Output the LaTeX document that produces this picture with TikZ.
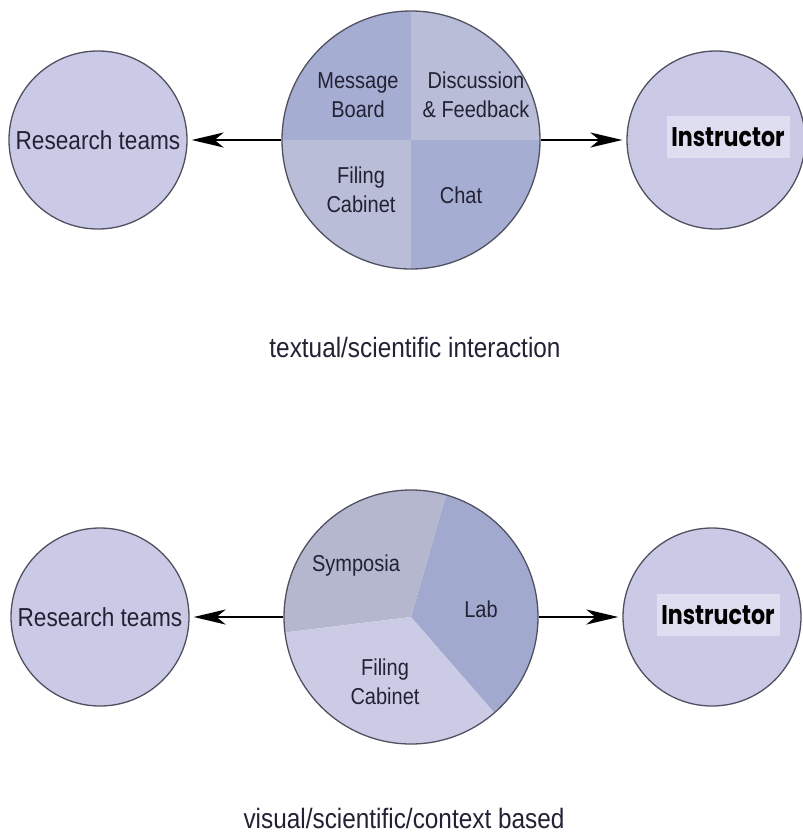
\documentclass[tikz,border=0pt]{standalone}
\usepackage{fontspec}
\setmainfont{Liberation Sans}[FakeStretch=0.87]
\newfontfamily\instrfont{Poppins}[FakeStretch=0.82]
\usetikzlibrary{arrows.meta}
\definecolor{outerfill}{RGB}{202,202,230}
\definecolor{qdark}{RGB}{166,173,210}
\definecolor{qlight}{RGB}{186,189,215}
\definecolor{symp}{RGB}{180,183,206}
\definecolor{labc}{RGB}{162,169,207}
\definecolor{filec}{RGB}{203,203,230}
\definecolor{edgec}{RGB}{80,80,96}
\definecolor{textc}{RGB}{34,34,52}
\definecolor{hilite}{RGB}{222,222,240}
\begin{document}
\begin{tikzpicture}[x=1pt,y=-1pt,
  outer/.style={circle, draw=edgec, line width=1.3pt, fill=outerfill, minimum size=178pt, inner sep=0pt, text=textc, font=\fontsize{26}{30}\selectfont},
  hub/.style={circle, draw=edgec, line width=1.3pt, minimum size=#1, inner sep=0pt},
  lbl/.style={font=\fontsize{23}{29}\selectfont, align=center, text=textc},
  instr/.style={fill=hilite, minimum width=123pt, minimum height=42pt, inner sep=0pt, font=\instrfont\bfseries\fontsize{27}{30}\selectfont},
  conn/.style={line width=2pt, -{Stealth[length=32pt,width=15pt,inset=9pt]}, shorten >=4pt},
  caption/.style={anchor=base, text=textc, font=\fontsize{28}{32}\selectfont}]
\useasboundingbox (0,0) rectangle (803,836);
\fill[white] (0,0) rectangle (803,836);

% ---------- top diagram ----------
\coordinate (h1) at (411,140);
\begin{scope}
  \clip (h1) circle[radius=129];
  \fill[qdark]  (h1) rectangle ++(-140,-140);
  \fill[qlight] (h1) rectangle ++(140,-140);
  \fill[qlight] (h1) rectangle ++(-140,140);
  \fill[qdark]  (h1) rectangle ++(140,140);
\end{scope}
\node[hub=258pt] (c1) at (h1) {};
\node[lbl] (mb) at (358,95) {Message\\Board};
\node[lbl] (df) at (476,95) {Discussion\\\& Feedback};
\node[lbl] (fc1) at (361,190) {Filing\\Cabinet};
\node[lbl] (ch) at (461,195) {Chat};

\node[outer] (rt1) at (98,140) {Research teams};
\node[outer] (in1) at (716,140) {};
\node[instr] (it1) at (728,137) {Instructor};

\draw[conn] (c1) -- (rt1);
\draw[conn] (c1) -- (in1);

\node[caption] (cap1) at (415,357) {textual/scientific interaction};

% ---------- bottom diagram ----------
\coordinate (h2) at (411,617);
\begin{scope}
  \clip (h2) circle[radius=127];
  \fill[labc]  (h2) -- +(49:200) -- +(0:200) -- +(-74:200) -- cycle;
  \fill[symp]  (h2) -- +(-74:200) -- +(-90:200) -- +(-180:200) -- +(-187:200) -- cycle;
  \fill[filec] (h2) -- +(-187:200) -- +(-270:200) -- +(-311:200) -- cycle;
\end{scope}
\node[hub=254pt] (c2) at (h2) {};
\node[lbl] (sy) at (356,566) {Symposia};
\node[lbl] (lb) at (481,609) {Lab};
\node[lbl] (fc2) at (385,682) {Filing\\Cabinet};

\node[outer] (rt2) at (100,617) {Research teams};
\node[outer] (in2) at (712,617) {};
\node[instr] (it2) at (718,615) {Instructor};

\draw[conn] (c2) -- (rt2);
\draw[conn] (c2) -- (in2);

\node[caption] (cap2) at (404,828) {visual/scientific/context based};
\end{tikzpicture}
\end{document}
